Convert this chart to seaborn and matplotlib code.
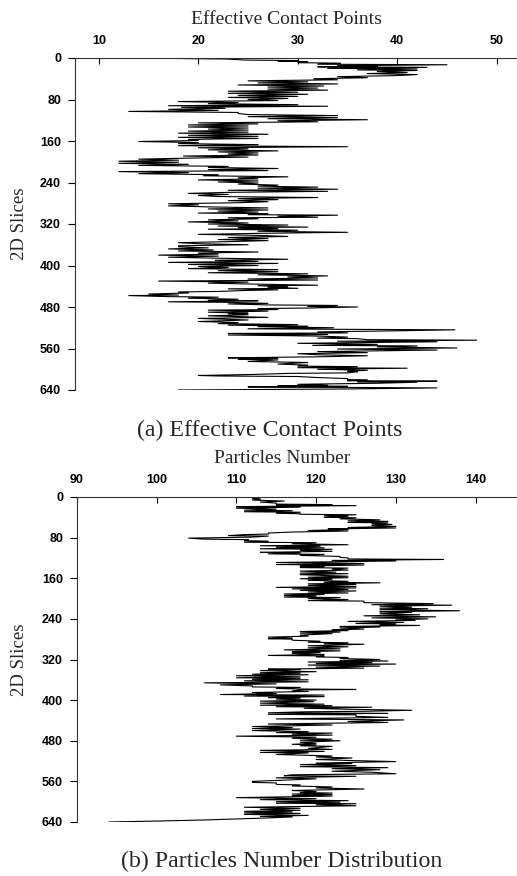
import matplotlib
matplotlib.use("Agg")
import matplotlib.pyplot as plt
import pandas as pd
import seaborn as sns

# ---------------- data ----------------
slice_a = [0, 1, 2, 4, 5, 6, 7, 9, 10, 12, 13, 15, 16, 17, 18, 20, 21, 23, 24, 26,
           28, 30, 32, 34, 36, 38, 40, 42, 44, 46, 48, 50, 52, 54, 56, 58, 60, 62, 64, 66,
           68, 70, 72, 74, 76, 78, 80, 82, 84, 86, 88, 90, 92, 93, 95, 97, 99, 101, 103, 105,
           107, 109, 111, 113, 115, 117, 119, 121, 123, 125, 127, 129, 131, 133, 135, 137, 139, 141, 143, 145,
           147, 149, 151, 153, 155, 157, 159, 161, 163, 165, 167, 169, 171, 173, 175, 177, 179, 181, 183, 185,
           187, 189, 191, 193, 195, 197, 199, 201, 203, 205, 207, 209, 211, 213, 215, 217, 219, 221, 223, 225,
           227, 229, 231, 233, 235, 237, 239, 241, 243, 245, 247, 249, 251, 253, 255, 257, 259, 261, 263, 265,
           267, 269, 271, 273, 275, 277, 279, 281, 283, 285, 287, 289, 291, 293, 295, 297, 299, 300, 302, 303,
           305, 307, 308, 310, 312, 314, 316, 318, 320, 322, 324, 326, 327, 329, 330, 332, 334, 336, 338, 340,
           342, 344, 346, 348, 350, 352, 354, 356, 358, 360, 362, 364, 366, 368, 370, 372, 374, 376, 378, 380,
           382, 384, 386, 388, 390, 392, 394, 396, 398, 400, 402, 404, 406, 408, 410, 412, 414, 416, 418, 420,
           422, 424, 426, 428, 430, 432, 434, 436, 438, 439, 441, 442, 444, 445, 447, 448, 450, 451, 453, 455,
           457, 458, 460, 461, 463, 465, 467, 468, 470, 471, 473, 474, 476, 477, 479, 480, 482, 483, 485, 486,
           488, 490, 492, 493, 495, 497, 500, 502, 505, 508, 510, 512, 514, 515, 517, 518, 520, 522, 523, 524,
           526, 528, 530, 531, 533, 534, 536, 538, 540, 541, 543, 544, 546, 547, 550, 552, 554, 555, 557, 559,
           561, 563, 566, 568, 570, 572, 574, 576, 578, 579, 581, 582, 585, 587, 590, 592, 594, 595, 597, 598,
           600, 602, 604, 605, 607, 608, 610, 612, 613, 614, 616, 618, 620, 621, 622, 623, 624, 625, 627, 629,
           631, 632, 633, 634, 636, 638, 640]
contact_a = [21, 18, 22.9, 24.7, 30, 28, 31, 30, 34.3, 32, 45, 34, 38, 32, 43, 33, 42, 36, 42, 38,
             41, 37, 42, 39.7, 34, 37, 31.6, 34, 25, 31, 26, 34, 24, 32.6, 27, 32, 27, 33, 23, 30,
             23, 31, 24, 30, 23, 29, 25, 28, 18, 24, 21, 30, 17, 33, 18.3, 22.7, 17, 22, 13, 24,
             24, 25, 34, 25, 34, 27, 37, 28, 32, 20, 26, 19, 25, 19, 25, 21, 25, 19, 25, 18,
             27, 19, 26, 18, 26, 19, 20, 14, 20, 18, 26, 18, 35, 20, 25, 21, 28, 22, 26, 23,
             26, 18.5, 25, 19, 14, 18, 12, 18, 12, 19, 14, 23, 21, 28, 21, 27, 12, 19, 14, 22,
             20.5, 29, 24, 26, 20, 26, 22, 26, 24, 28, 26, 32, 26, 34, 23, 33, 23, 19, 23, 20,
             22, 32, 24, 28, 23, 27, 24, 17, 20, 17, 21, 27, 21, 27, 22, 26, 20, 27, 25, 34,
             28, 32, 23, 26, 21, 24, 19, 25, 21, 29, 22, 31, 24, 28, 21, 30, 26, 35, 26, 20,
             26, 29, 23, 27, 22, 27, 23, 18, 20, 25, 18, 18, 21, 17, 21.5, 18, 26, 20, 22, 16,
             22, 17, 22, 29, 21.7, 26, 17, 28, 19, 26, 20, 23, 19, 28, 22, 28, 21, 31, 26, 33,
             29, 32, 25, 32, 16, 25, 21, 26, 32, 26, 29, 27, 30, 23, 28, 25, 22, 18, 19, 15,
             18, 13, 17, 22, 19, 24, 21, 26, 17, 23, 27, 23, 27, 34, 31, 36, 31, 26, 28, 21,
             27, 21, 25, 23, 25, 21, 27, 20, 25, 20, 24, 22, 30, 23, 31, 26, 33.6, 25, 34, 45.8,
             39.6, 32, 35, 23, 33, 23, 32, 35, 32, 36, 37, 48, 34, 44, 30, 38, 31.5, 42, 38, 46,
             34, 44, 32, 37, 30, 32, 37, 32, 23, 28, 24, 28, 25, 31, 28, 31, 30, 36, 30, 41,
             32, 37, 35, 36, 35, 29, 25.6, 20, 22, 30, 32, 35, 35, 37, 35, 44, 36, 42, 38, 30,
             33, 28, 35, 25, 44, 35, 18]

slice_b = [0, 1, 3, 4, 6, 8, 10, 12, 14, 15, 16, 17, 19, 20, 22, 24, 26, 27, 29, 30,
           32, 33, 34, 35, 37, 38, 40, 41, 43, 45, 47, 48, 50, 51, 53, 54, 56, 58, 60, 61,
           63, 64, 66, 67, 69, 71, 73, 74, 76, 77, 79, 81, 83, 84, 86, 87, 89, 90, 92, 94,
           96, 97, 99, 100, 102, 103, 105, 107, 109, 110, 112, 113, 115, 117, 119, 120, 122, 123, 125, 126,
           129, 131, 133, 134, 136, 137, 139, 140, 142, 144, 146, 148, 150, 151, 153, 156, 158, 159, 161, 162,
           164, 166, 168, 169, 171, 172, 174, 176, 178, 179, 181, 182, 184, 185, 187, 189, 191, 192, 194, 195,
           197, 198, 200, 202, 204, 205, 208, 210, 212, 213, 215, 217, 219, 220, 222, 224, 226, 227, 230, 232,
           234, 236, 238, 240, 242, 243, 245, 247, 249, 250, 252, 253, 255, 256, 258, 260, 262, 263, 265, 266,
           268, 269, 272, 274, 276, 278, 279, 280, 282, 284, 286, 287, 289, 290, 293, 295, 297, 299, 301, 303,
           305, 306, 308, 310, 312, 313, 315, 316, 318, 320, 322, 323, 325, 326, 328, 329, 331, 333, 335, 337,
           339, 340, 342, 344, 346, 347, 349, 350, 352, 354, 356, 357, 359, 360, 362, 364, 366, 368, 370, 372,
           374, 375, 377, 378, 379, 380, 382, 383, 385, 387, 389, 390, 392, 393, 395, 396, 398, 400, 402, 403,
           406, 408, 410, 411, 413, 414, 416, 418, 420, 422, 423, 425, 426, 428, 429, 432, 434, 437, 439, 442,
           444, 447, 449, 452, 454, 456, 457, 460, 462, 464, 465, 467, 469, 471, 473, 475, 477, 479, 480, 483,
           485, 487, 488, 490, 491, 495, 497, 499, 501, 503, 504, 507, 510, 512, 514, 517, 519, 521, 523, 524,
           525, 527, 529, 531, 533, 535, 537, 540, 542, 545, 547, 549, 550, 553, 555, 558, 560, 562, 563, 566,
           567, 569, 571, 573, 575, 578, 580, 582, 583, 585, 586, 588, 589, 592, 594, 596, 598, 600, 601, 603,
           604, 606, 608, 611, 613, 615, 617, 619, 620, 622, 623, 625, 627, 629, 630, 632, 634, 636, 638, 640]
particles_b = [107, 113, 112, 113, 112, 116, 113, 115, 115, 122, 115, 125, 110, 118, 110, 115, 111, 117, 111, 118,
               115, 118, 118, 125, 121, 124, 121, 125, 123, 128, 124, 129, 124, 129, 127, 129.5, 127, 130, 124, 130,
               121.5, 124, 119, 124, 117, 114, 114, 111, 109, 114, 112, 104, 106, 111.5, 111, 114, 111, 120, 117, 124,
               113, 120.5, 115, 121, 113, 122, 118, 122, 113, 118, 114, 121, 118, 123, 123, 124, 124, 136, 122, 130,
               115, 126, 115, 126, 118, 121, 118, 124, 122, 124, 118, 122.5, 118, 124, 118, 124, 119, 124, 118, 122,
               119, 124, 121, 128, 119, 125, 119, 125, 115, 125, 117, 124, 118, 125, 119, 124, 116, 121, 116, 120,
               116, 123, 119, 124, 119, 126, 126, 134.7, 127, 137, 128, 132, 128, 134, 128, 138, 128, 132, 128, 133,
               126, 135, 127, 134, 130, 132.4, 124, 131, 125, 130, 128, 133, 123, 128, 123, 126, 122, 124, 118, 123,
               118, 122, 118, 119, 114, 117, 114, 117, 117, 120.5, 119, 124, 121, 126, 119, 124, 119, 123, 116, 123,
               117, 120.5, 117, 121, 114, 121, 120, 124, 123, 128, 123, 129, 119, 127, 120, 130, 119, 128, 120, 126,
               114, 118, 113, 120, 113, 118, 112, 119, 110, 118, 110, 118, 112, 119, 111, 119, 106, 115, 108, 112,
               112, 118, 115, 117.5, 125, 118, 117, 119, 112, 115, 108, 121, 111, 121, 114, 118, 115, 120, 113, 119.7,
               113, 121, 113, 122, 115, 127, 118.5, 124, 132, 126, 118.5, 114, 129, 114, 125, 125, 129, 115, 131, 124,
               129, 114, 122, 112, 117, 112, 118, 112, 119, 115, 122, 117, 122, 110, 120, 117, 122, 118, 123, 118,
               120, 117, 120, 118, 122, 119, 122, 113, 121, 113, 119, 115, 122, 120, 124.5, 120, 124.5, 130, 123, 120,
               124.5, 118, 125, 118, 129, 122, 128, 122, 127, 130, 117, 116, 125, 115, 120, 115, 112, 112, 115, 115,
               118, 117, 122, 120, 126, 117, 120, 118, 122, 117, 122, 117, 122, 110, 120, 113, 124, 115, 123, 115,
               125, 120, 125, 111, 118, 113, 118, 111, 117, 111, 118, 111, 119, 113, 117, 114, 110, 106, 100.5, 94]

slice_ticks = [0, 80, 160, 240, 320, 400, 480, 560, 640]
ticks_a = [10, 20, 30, 40, 50]
ticks_b = [90, 100, 110, 120, 130, 140]

df_a = pd.DataFrame({"slice": slice_a, "value": contact_a})
df_b = pd.DataFrame({"slice": slice_b, "value": particles_b})

# ---------------- style ----------------
sns.set_style("ticks")
plt.rcParams["font.family"] = ["Liberation Sans", "DejaVu Sans"]

W, H = 517, 876
fig = plt.figure(figsize=(W / 100, H / 100), dpi=100)


def rect(l, t, r, b):
    return [l / W, 1 - b / H, (r - l) / W, (b - t) / H]


ax1 = fig.add_axes(rect(75, 58, 517, 390))
ax2 = fig.add_axes(rect(77, 497, 517, 822))

serif = ["Liberation Serif", "DejaVu Serif"]

for ax, df, xt, xlim in [(ax1, df_a, ticks_a, (7.59, 52.05)),
                         (ax2, df_b, ticks_b, (90.0, 145.2))]:
    sns.lineplot(data=df, x="value", y="slice", sort=False, estimator=None,
                 color="black", lw=0.8, ax=ax)
    ax.set_xlim(*xlim)
    ax.set_ylim(640, 0)
    ax.set_xticks(xt)
    ax.set_yticks(slice_ticks)
    ax.set_xlabel("")
    ax.set_ylabel("")
    ax.xaxis.set_ticks_position("top")
    ax.xaxis.set_label_position("top")
    ax.tick_params(axis="x", direction="in", length=4, width=0.8, pad=8,
                   labelsize=9, colors="black")
    ax.tick_params(axis="y", direction="out", length=5, width=0.8, pad=5,
                   labelsize=9, colors="black")
    for lab in ax.get_xticklabels() + ax.get_yticklabels():
        lab.set_fontweight("bold")
    ax.spines["right"].set_visible(False)
    ax.spines["bottom"].set_visible(False)
    ax.spines["top"].set_linewidth(0.8)
    ax.spines["left"].set_linewidth(0.8)
    ax.spines["top"].set_color("#333333")
    ax.spines["left"].set_color("#333333")
    ax.set_facecolor("white")

# titles / labels
fig.text(286 / W, 1 - 20 / H, "Effective Contact Points", ha="center", va="center",
         fontsize=14, family=serif)
fig.text(270 / W, 1 - 430 / H, "(a) Effective Contact Points", ha="center", va="center",
         fontsize=17.2, family=serif)
fig.text(282 / W, 1 - 458 / H, "Particles Number", ha="center", va="center",
         fontsize=14, family=serif)
fig.text(282 / W, 1 - 861 / H, "(b) Particles Number Distribution", ha="center", va="center",
         fontsize=17.2, family=serif)
fig.text(19 / W, 1 - 224 / H, "2D Slices", ha="center", va="center", rotation=90,
         fontsize=13.5, family=serif)
fig.text(19 / W, 1 - 660 / H, "2D Slices", ha="center", va="center", rotation=90,
         fontsize=13.5, family=serif)

fig.savefig("out.png", dpi=100, facecolor="white")
